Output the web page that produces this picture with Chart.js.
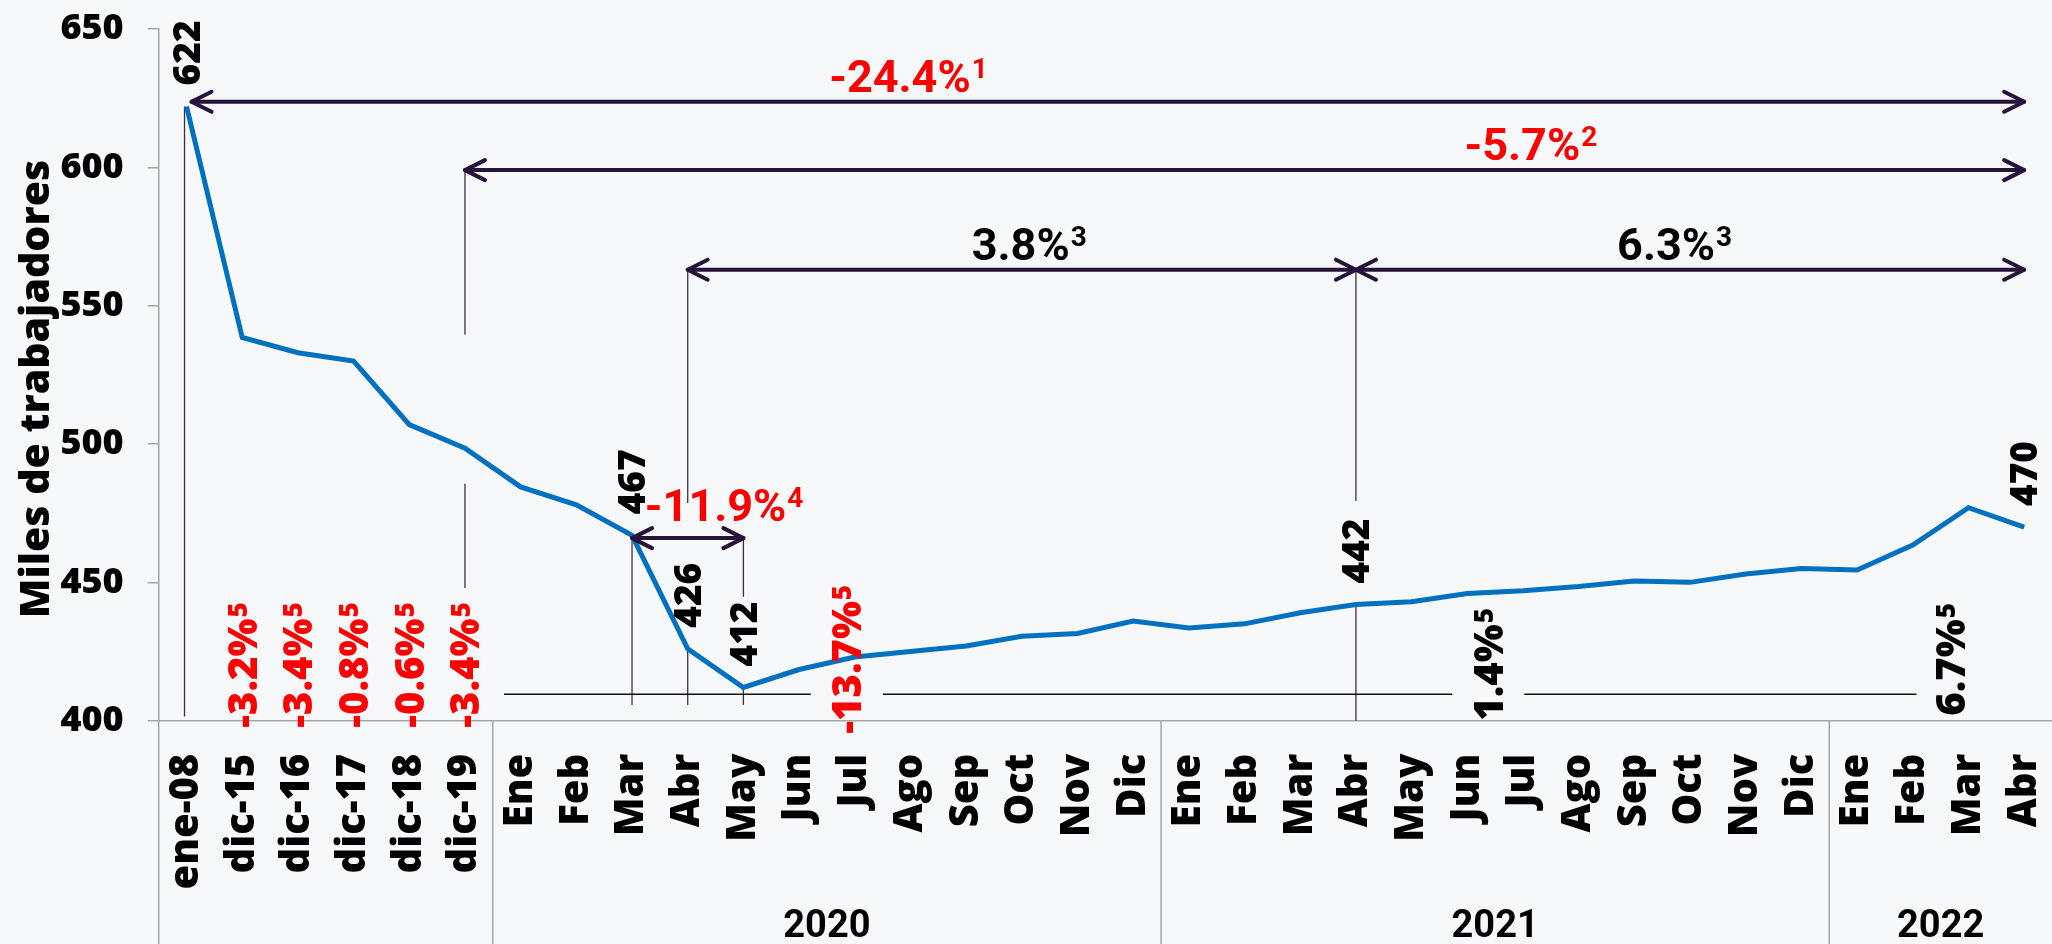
<!DOCTYPE html>
<html>
<head>
<meta charset="utf-8">
<script src="https://cdn.jsdelivr.net/npm/chart.js@4.4.1/dist/chart.umd.min.js"></script>
<style>
  html, body { margin: 0; padding: 0; background: #f7f8fa; }
  #wrap { width: 2052px; height: 944px; }
</style>
</head>
<body>
<div id="wrap"><canvas id="chart" width="2052" height="944"></canvas></div>
<script>
// ---- Datos (miles de trabajadores) --------------------------------------
const categories = ['ene-08', 'dic-15', 'dic-16', 'dic-17', 'dic-18', 'dic-19',
    'Ene', 'Feb', 'Mar', 'Abr', 'May', 'Jun', 'Jul', 'Ago', 'Sep', 'Oct', 'Nov', 'Dic',
    'Ene', 'Feb', 'Mar', 'Abr', 'May', 'Jun', 'Jul', 'Ago', 'Sep', 'Oct', 'Nov', 'Dic',
    'Ene', 'Feb', 'Mar', 'Abr'];
const workers = [622, 538.5, 533, 530, 507, 498.5,
    484.5, 478, 467, 426, 412, 418.5, 423, 425, 427, 430.5, 431.5, 436,
    433.5, 435, 439, 442, 443, 446, 447, 448.5, 450.5, 450, 453, 455,
    454.5, 463.5, 477, 470];
const yMin = 400;
const yMax = 650;
const yStep = 50;

// grupos de años bajo el eje
const years     = ['2020', '2021', '2022'];
const yearFirst = [6, 18, 30];
const yearLast  = [17, 29, 33];

// puntos con etiqueta de valor
const labeledPoints = [0, 8, 9, 10, 21, 33];

// variaciones anuales (nota 5) al pie de cada categoría
const changeIdx  = [1, 2, 3, 4, 5, 12, 23, 32];
const changeText = ['-3.2%', '-3.4%', '-0.8%', '-0.6%', '-3.4%', '-13.7%', '1.4%', '6.7%'];

// flechas de variación entre periodos
const spanFrom  = [0, 5, 9, 21, 8];
const spanTo    = [33, 33, 21, 33, 10];
const spanLevel = [623.7, 599, 563, 563, 466];
const spanText  = ['-24.4%', '-5.7%', '3.8%', '6.3%', '-11.9%'];
const spanNote  = ['1', '2', '3', '3', '4'];

// guías verticales finas: categoría, desde, hasta (valores)
const guideIdx  = [0, 5, 5, 8, 9, 9, 10, 10, 21, 21];
const guideFrom = [622, 599, 485.6, 467, 563, 426, 466, 412, 563, 442];
const guideTo   = [401.5, 539.6, 448, 405.7, 478.7, 405.7, 444.8, 405.7, 479.4, 400];

// línea horizontal de referencia
const baseLevel = 409.6;

// ---- Estilos -------------------------------------------------------------
const RED  = '#ff0000';
const INK  = '#26133a';
const AXIS = '#a6a6a6';
const BODY = "'Open Sans', sans-serif";
const HEAD = "Roboto, sans-serif";

const spanTextAt  = [11.54, 22.95, 14.1, 25.69, 8.23];   // posición (índice) del texto
const spanTextGap = [10, 10, 10, 10, 17];
const changeNudgeX = [0, 0, 0, 0, 0, -8, 21, -18];
const changeNudgeY = [7, 7, 7, 7, 7, 13, 0, -5];

function drawHead(ctx, x, y, dir) {
    ctx.beginPath();
    ctx.moveTo(x - dir * 20, y - 10);
    ctx.lineTo(x, y);
    ctx.lineTo(x - dir * 20, y + 10);
    ctx.stroke();
}

function vText(ctx, x, y, text, sup, size, color) {
    ctx.save();
    ctx.translate(x, y);
    ctx.rotate(-Math.PI / 2);
    ctx.fillStyle = color;
    ctx.textAlign = 'left';
    ctx.textBaseline = 'alphabetic';
    ctx.font = `800 ${size}px ${BODY}`;
    const base = 0.357 * size;
    ctx.fillText(text, 0, base);
    if (sup) {
        const w = ctx.measureText(text).width;
        ctx.font = `800 ${Math.round(size * 0.66)}px ${BODY}`;
        ctx.fillText(sup, w + 1, base - 0.714 * size * 0.34);
    }
    ctx.restore();
}

const annotations = {
    id: 'annotations',
    beforeDatasetsDraw(chart) {
        const { ctx, chartArea, scales: { x, y } } = chart;
        ctx.save();

        // separadores de grupo bajo el eje
        ctx.strokeStyle = AXIS;
        ctx.lineWidth = 1.5;
        const seps = [chartArea.left].concat(yearFirst.map(i => (x.getPixelForValue(i - 1) + x.getPixelForValue(i)) / 2));
        seps.forEach(px => {
            ctx.beginPath();
            ctx.moveTo(px, chartArea.bottom);
            ctx.lineTo(px, chart.height);
            ctx.stroke();
        });

        // guías verticales
        ctx.strokeStyle = '#3d3040';
        ctx.lineWidth = 1.3;
        guideIdx.forEach((idx, k) => {
            const px = x.getPixelForValue(idx) - (idx === 0 ? 2 : 0);
            ctx.beginPath();
            ctx.moveTo(px, y.getPixelForValue(guideFrom[k]));
            ctx.lineTo(px, y.getPixelForValue(guideTo[k]));
            ctx.stroke();
        });

        // línea horizontal con huecos en las etiquetas
        const labelX = changeIdx.map((idx, k) => x.getPixelForValue(idx) + changeNudgeX[k]);
        const start = labelX[4] + 39;
        const end = labelX[7] - 34;
        const gaps = labelX.filter(px => px > start && px < end);
        const py = y.getPixelForValue(baseLevel);
        ctx.strokeStyle = '#111';
        ctx.lineWidth = 1.5;
        let cur = start;
        gaps.concat([end + 36]).forEach(g => {
            ctx.beginPath();
            ctx.moveTo(cur, py);
            ctx.lineTo(g - 36, py);
            ctx.stroke();
            cur = g + 36;
        });
        ctx.restore();
    },
    afterDatasetsDraw(chart) {
        const { ctx, chartArea, scales: { x, y } } = chart;
        ctx.save();

        // flechas
        ctx.strokeStyle = INK;
        ctx.lineWidth = 4;
        ctx.lineCap = 'round';
        ctx.lineJoin = 'round';
        spanFrom.forEach((from, k) => {
            const x1 = x.getPixelForValue(from) + (from === 0 ? 5 : 0);
            const x2 = x.getPixelForValue(spanTo[k]);
            const py = y.getPixelForValue(spanLevel[k]);
            ctx.beginPath();
            ctx.moveTo(x1, py);
            ctx.lineTo(x2, py);
            ctx.stroke();
            drawHead(ctx, x1, py, -1);
            drawHead(ctx, x2, py, 1);

            const tx = x.getPixelForValue(spanTextAt[k]);
            const ty = py - spanTextGap[k];
            ctx.fillStyle = spanText[k].startsWith('-') ? RED : '#000';
            ctx.textAlign = 'left';
            ctx.textBaseline = 'alphabetic';
            ctx.font = `bold 45px ${HEAD}`;
            ctx.fillText(spanText[k], tx, ty);
            const w = ctx.measureText(spanText[k]).width;
            ctx.font = `bold 28px ${HEAD}`;
            ctx.fillText(spanNote[k], tx + w + 1, ty - 14);
        });

        // etiquetas de valor
        labeledPoints.forEach(i => {
            vText(ctx, x.getPixelForValue(i), y.getPixelForValue(workers[i]) - 21,
                String(Math.round(workers[i])), '', 37, '#000');
        });

        // variaciones anuales
        changeIdx.forEach((idx, k) => {
            const txt = changeText[k];
            vText(ctx, x.getPixelForValue(idx) + changeNudgeX[k], chartArea.bottom + changeNudgeY[k],
                txt, '5', 40, txt.startsWith('-') ? RED : '#000');
        });

        // años
        ctx.fillStyle = '#000';
        ctx.font = `bold 38px ${HEAD}`;
        ctx.textAlign = 'center';
        ctx.textBaseline = 'alphabetic';
        years.forEach((yr, k) => {
            const cx = (x.getPixelForValue(yearFirst[k]) + x.getPixelForValue(yearLast[k])) / 2;
            ctx.fillText(yr, cx, 937);
        });

        // título del eje Y
        ctx.save();
        ctx.translate(37, 389);
        ctx.rotate(-Math.PI / 2);
        ctx.font = `800 41px ${BODY}`;
        ctx.textAlign = 'center';
        ctx.textBaseline = 'middle';
        ctx.fillText('Miles de trabajadores', 0, 0);
        ctx.restore();

        ctx.restore();
    }
};

new Chart(document.getElementById('chart'), {
    type: 'line',
    data: {
        labels: categories,
        datasets: [{
            data: workers,
            borderColor: '#0070c0',
            borderWidth: 5,
            pointRadius: 0,
            tension: 0,
            fill: false
        }]
    },
    options: {
        responsive: false,
        animation: false,
        devicePixelRatio: 1,
        layout: { padding: { top: 29, right: -8, bottom: 0, left: 0 } },
        plugins: { legend: { display: false }, tooltip: { enabled: false } },
        scales: {
            x: {
                offset: true,
                afterFit: s => { s.height = 223.3; s.paddingLeft = 0; s.paddingRight = -8; },
                grid: { display: false },
                border: { display: true, color: AXIS, width: 1.5 },
                ticks: {
                    autoSkip: false,
                    minRotation: 90,
                    maxRotation: 90,
                    padding: 25,
                    color: '#000',
                    font: { family: 'Open Sans', size: 40, weight: '800' }
                }
            },
            y: {
                min: yMin,
                max: yMax,
                afterFit: s => { s.width = 158.7; s.paddingTop = 0; s.paddingBottom = 0; },
                grid: { drawOnChartArea: false, drawTicks: true, tickLength: 11, color: AXIS, lineWidth: 1.5 },
                border: { display: true, color: AXIS, width: 1.5 },
                ticks: {
                    stepSize: yStep,
                    padding: 24,
                    color: '#000',
                    font: { family: 'Open Sans', size: 36, weight: '800' }
                }
            }
        }
    },
    plugins: [annotations]
});
</script>
</body>
</html>
